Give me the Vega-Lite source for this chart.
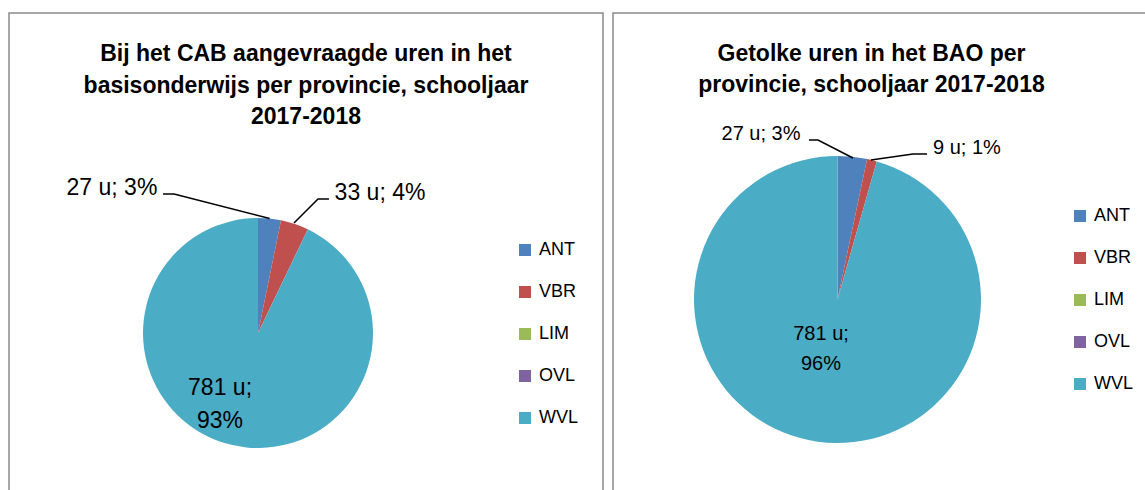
{
  "$schema": "https://vega.github.io/schema/vega-lite/v6.json",
  "background": "white",
  "padding": {"left": 8, "top": 12, "right": 0, "bottom": 0},
  "spacing": 8,
  "config": {
    "view": {"stroke": "#8a8a8a", "strokeWidth": 1.5},
    "font": "Liberation Sans"
  },
  "datasets": {
    "cab": [
      {"provincie": "ANT", "uren": 27, "nr": 1},
      {"provincie": "VBR", "uren": 33, "nr": 2},
      {"provincie": "LIM", "uren": 0, "nr": 3},
      {"provincie": "OVL", "uren": 0, "nr": 4},
      {"provincie": "WVL", "uren": 781, "nr": 5}
    ],
    "cabLabels": [
      {"label": "27 u; 3%", "x": -1.27, "y": 1.261},
      {"label": "33 u; 4%", "x": 1.061, "y": 1.217},
      {"label": "781 u;\n93%", "x": -0.33, "y": -0.478}
    ],
    "cabLeader": [
      {"provincie": "ANT", "punt": 1, "x": -0.826, "y": 1.209},
      {"provincie": "ANT", "punt": 2, "x": -0.73, "y": 1.209},
      {"provincie": "ANT", "punt": 3, "x": 0.101, "y": 0.995},
      {"provincie": "VBR", "punt": 1, "x": 0.313, "y": 0.957},
      {"provincie": "VBR", "punt": 2, "x": 0.522, "y": 1.165},
      {"provincie": "VBR", "punt": 3, "x": 0.617, "y": 1.165}
    ],
    "bao": [
      {"provincie": "ANT", "uren": 27, "nr": 1},
      {"provincie": "VBR", "uren": 9, "nr": 2},
      {"provincie": "LIM", "uren": 0, "nr": 3},
      {"provincie": "OVL", "uren": 0, "nr": 4},
      {"provincie": "WVL", "uren": 781, "nr": 5}
    ],
    "baoLabels": [
      {"label": "27 u; 3%", "x": -0.533, "y": 1.153},
      {"label": "9 u; 1%", "x": 0.902, "y": 1.056},
      {"label": "781 u;\n96%", "x": -0.115, "y": -0.24}
    ],
    "baoLeader": [
      {"provincie": "ANT", "punt": 1, "x": -0.199, "y": 1.111},
      {"provincie": "ANT", "punt": 2, "x": -0.136, "y": 1.111},
      {"provincie": "ANT", "punt": 3, "x": 0.108, "y": 0.986},
      {"provincie": "VBR", "punt": 1, "x": 0.233, "y": 0.972},
      {"provincie": "VBR", "punt": 2, "x": 0.526, "y": 1.014},
      {"provincie": "VBR", "punt": 3, "x": 0.624, "y": 1.014}
    ]
  },
  "hconcat": [
    {
      "width": 594,
      "height": 478,
      "title": {
        "text": ["Bij het CAB aangevraagde uren in het", "basisonderwijs per provincie, schooljaar", "2017-2018"],
        "font": "Liberation Sans", "fontSize": 23, "fontWeight": "bold", "lineHeight": 31.5,
        "color": "#000000", "anchor": "middle", "frame": "group", "offset": -116
      },
      "layer": [
        {
          "data": {"name": "cab"},
          "mark": {"type": "arc", "radius": 115},
          "encoding": {
            "theta": {"field": "uren", "type": "quantitative", "stack": true},
            "order": {"field": "nr", "type": "quantitative"},
            "color": {
              "field": "provincie", "type": "nominal",
              "scale": {"domain": ["ANT", "VBR", "LIM", "OVL", "WVL"], "range": ["#4F81BD", "#C0504D", "#9BBB59", "#8064A2", "#4BACC6"]},
              "legend": {"title": null, "orient": "none", "legendX": 507, "legendY": 228, "symbolType": "square", "symbolSize": 144, "symbolStrokeWidth": 0, "labelFontSize": 18, "labelFont": "Liberation Sans", "labelColor": "#000000", "labelOffset": 5, "rowPadding": 24, "padding": 0}
            },
            "x": {"datum": 0, "type": "quantitative", "scale": {"domain": [-2.1652, 3.0], "nice": false, "zero": false}, "axis": null},
            "y": {"datum": 0, "type": "quantitative", "scale": {"domain": [-1.3739, 2.7826], "nice": false, "zero": false}, "axis": null}
          }
        },
        {
          "data": {"name": "cabLeader"},
          "mark": {"type": "line", "color": "#000000", "strokeWidth": 1.5},
          "encoding": {
            "x": {"field": "x", "type": "quantitative", "scale": {"domain": [-2.1652, 3.0], "nice": false, "zero": false}, "axis": null},
            "y": {"field": "y", "type": "quantitative", "scale": {"domain": [-1.3739, 2.7826], "nice": false, "zero": false}, "axis": null},
            "detail": {"field": "provincie", "type": "nominal"},
            "order": {"field": "punt", "type": "quantitative"}
          }
        },
        {
          "data": {"name": "cabLabels"},
          "mark": {"type": "text", "font": "Liberation Sans", "fontSize": 23, "lineBreak": "\n", "lineHeight": 33, "color": "#000000", "align": "center", "baseline": "middle"},
          "encoding": {
            "x": {"field": "x", "type": "quantitative", "scale": {"domain": [-2.1652, 3.0], "nice": false, "zero": false}, "axis": null},
            "y": {"field": "y", "type": "quantitative", "scale": {"domain": [-1.3739, 2.7826], "nice": false, "zero": false}, "axis": null},
            "text": {"field": "label", "type": "nominal"}
          }
        }
      ]
    },
    {
      "width": 533,
      "height": 478,
      "title": {
        "text": ["Getolke uren in het BAO  per", "provincie,  schooljaar 2017-2018"],
        "font": "Liberation Sans", "fontSize": 23, "fontWeight": "bold", "lineHeight": 31.5,
        "color": "#000000", "anchor": "middle", "frame": "group", "offset": -84, "dx": -8
      },
      "layer": [
        {
          "data": {"name": "bao"},
          "mark": {"type": "arc", "radius": 143.5},
          "encoding": {
            "theta": {"field": "uren", "type": "quantitative", "stack": true},
            "order": {"field": "nr", "type": "quantitative"},
            "color": {
              "field": "provincie", "type": "nominal",
              "scale": {"domain": ["ANT", "VBR", "LIM", "OVL", "WVL"], "range": ["#4F81BD", "#C0504D", "#9BBB59", "#8064A2", "#4BACC6"]},
              "legend": {"title": null, "orient": "none", "legendX": 458, "legendY": 194, "symbolType": "square", "symbolSize": 144, "symbolStrokeWidth": 0, "labelFontSize": 18, "labelFont": "Liberation Sans", "labelColor": "#000000", "labelOffset": 5, "rowPadding": 24, "padding": 0}
            },
            "x": {"datum": 0, "type": "quantitative", "scale": {"domain": [-1.5645, 2.1498], "nice": false, "zero": false}, "axis": null},
            "y": {"datum": 0, "type": "quantitative", "scale": {"domain": [-1.3345, 1.9965], "nice": false, "zero": false}, "axis": null}
          }
        },
        {
          "data": {"name": "baoLeader"},
          "mark": {"type": "line", "color": "#000000", "strokeWidth": 1.5},
          "encoding": {
            "x": {"field": "x", "type": "quantitative", "scale": {"domain": [-1.5645, 2.1498], "nice": false, "zero": false}, "axis": null},
            "y": {"field": "y", "type": "quantitative", "scale": {"domain": [-1.3345, 1.9965], "nice": false, "zero": false}, "axis": null},
            "detail": {"field": "provincie", "type": "nominal"},
            "order": {"field": "punt", "type": "quantitative"}
          }
        },
        {
          "data": {"name": "baoLabels"},
          "mark": {"type": "text", "font": "Liberation Sans", "fontSize": 20, "lineBreak": "\n", "lineHeight": 30, "color": "#000000", "align": "center", "baseline": "middle"},
          "encoding": {
            "x": {"field": "x", "type": "quantitative", "scale": {"domain": [-1.5645, 2.1498], "nice": false, "zero": false}, "axis": null},
            "y": {"field": "y", "type": "quantitative", "scale": {"domain": [-1.3345, 1.9965], "nice": false, "zero": false}, "axis": null},
            "text": {"field": "label", "type": "nominal"}
          }
        }
      ]
    }
  ],
  "resolve": {
    "scale": {"x": "independent", "y": "independent", "theta": "independent", "color": "independent"},
    "legend": {"color": "independent"}
  }
}
